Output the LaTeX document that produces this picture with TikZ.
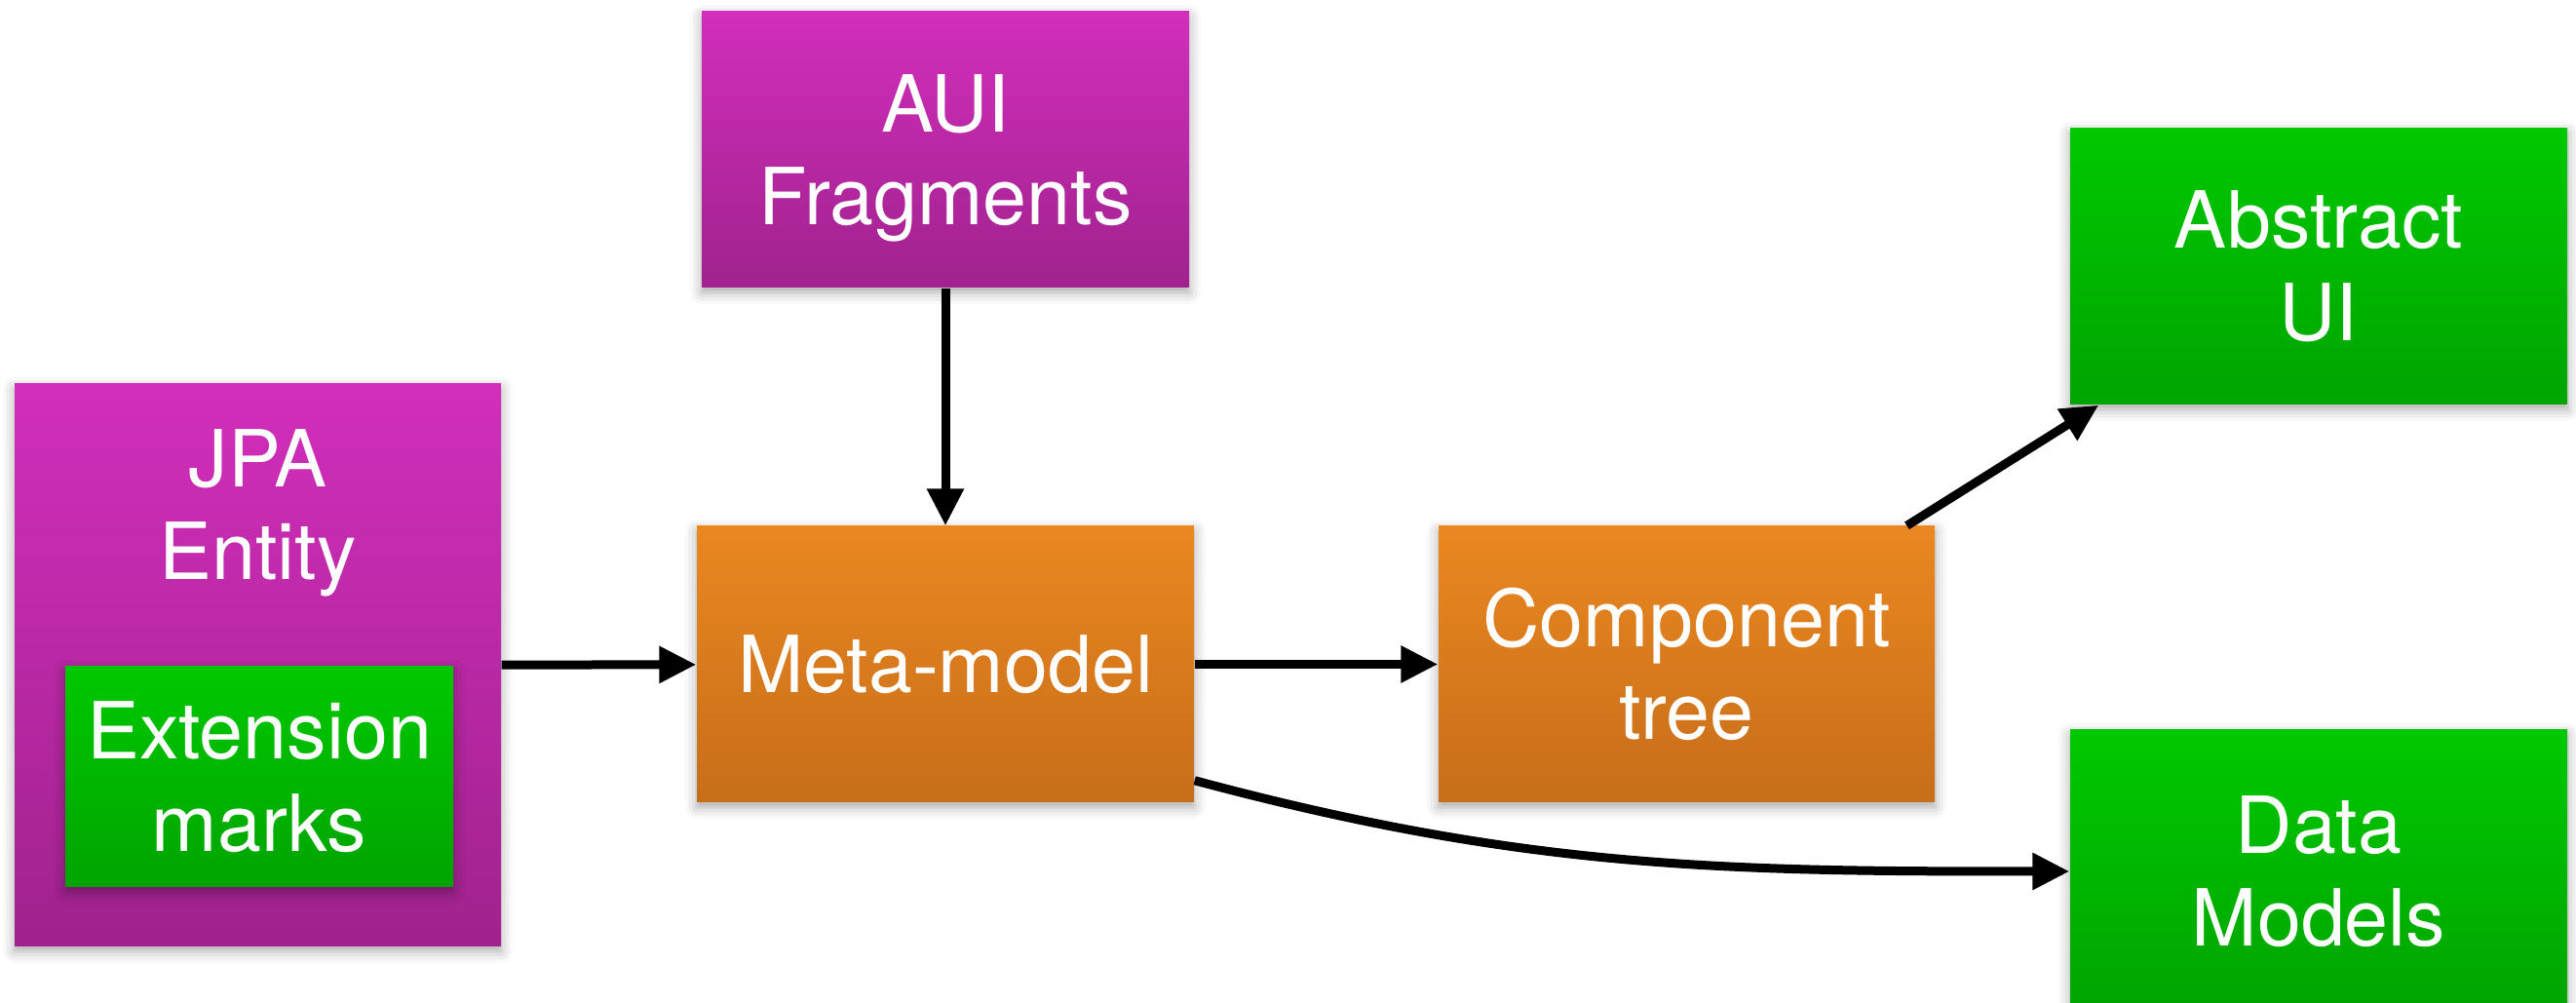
\documentclass[tikz,border=0pt]{standalone}
\usepackage{xcolor}
\usepackage{fontspec}
\setmainfont{TeX Gyre Heros}
\definecolor{d22ebb}{HTML}{D22EBB}
\definecolor{a0228e}{HTML}{A0228E}
\definecolor{ea8720}{HTML}{EA8720}
\definecolor{c76e1a}{HTML}{C76E1A}
\definecolor{g00c800}{HTML}{00C800}
\definecolor{g00a400}{HTML}{00A400}
\usepackage{tikz}
\usetikzlibrary{arrows.meta, shadows.blur}

\begin{document}
\begin{tikzpicture}[
        lbl/.style={text=white, align=center, font=\fontsize{23}{27}\selectfont},
        box/.style={lbl, rectangle, inner sep=0pt, minimum width=5.1cm, minimum height=2.83cm,
            blur shadow={shadow xshift=0pt, shadow yshift=-0.05cm, shadow blur radius=0.12cm, shadow opacity=35}},
        purplebox/.style={box, top color=d22ebb, bottom color=a0228e},
        orangebox/.style={box, top color=ea8720, bottom color=c76e1a},
        greenbox/.style={box, top color=g00c800, bottom color=g00a400},
        arr/.style={-{Triangle[length=0.38cm, width=0.36cm]}, line width=0.09cm}
    ]
                        \useasboundingbox (0, 0) rectangle (26.43, -10.29);

                        \node (aui) at (9.70, -1.535) [purplebox, minimum width=5.0cm, text depth=0pt] {AUI\\Fragments};
                        \node (jpa) at (2.645, -6.825) [purplebox, minimum width=4.99cm, minimum height=5.77cm] {};
                        \node (jpatext) at (2.645, -5.26) [lbl] {JPA\\Entity};
                        \node (ext) at (2.66, -7.97) [greenbox, minimum width=3.98cm, minimum height=2.26cm] {Extension\\marks};
                        \node (meta) at (9.70, -6.815) [orangebox] {Meta-model};
                        \node (comp) at (17.305, -6.815) [orangebox, minimum width=5.09cm] {Component\\tree};
                        \node (abst) at (23.79, -2.735) [greenbox] {Abstract\\UI};
                        \node (data) at (23.79, -8.94) [greenbox, minimum height=2.9cm] {Data\\Models};

                        \draw[arr] (aui) -- (meta);
                        \draw[arr] (jpa) -- (meta);
                        \draw[arr] (meta) -- (comp);
                        \draw[arr] (comp) -- (abst);

                        % bypass to the data models
                        \draw[arr] (meta.335) to[out=-15, in=180] (data.west);
                    \end{tikzpicture}
\end{document}
